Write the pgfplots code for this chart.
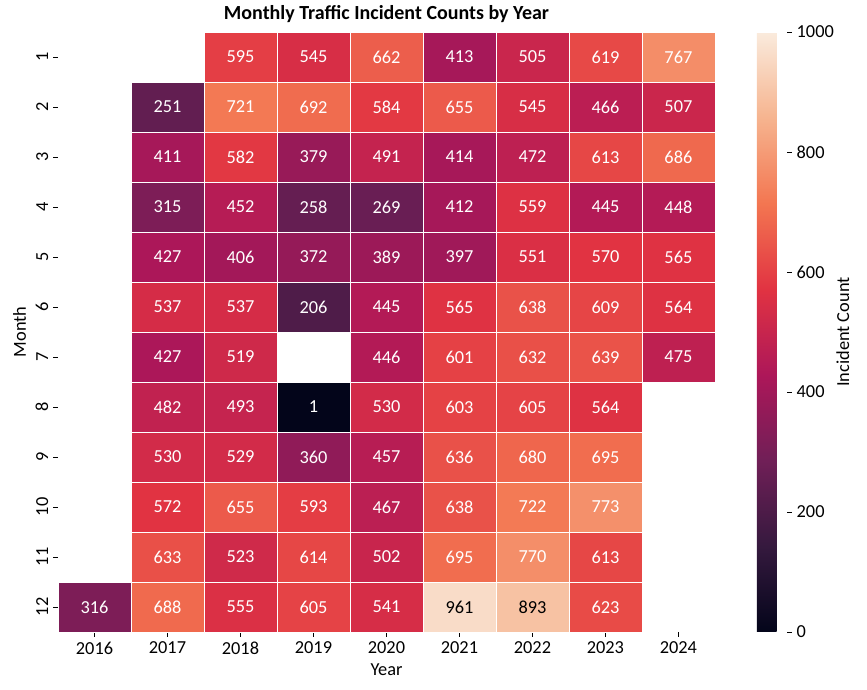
\documentclass[border=0pt]{standalone}
\usepackage{pgfplots}
\pgfplotsset{compat=1.18}
\usepackage{pgfplotstable}
\usepackage{fontspec}
\setmainfont{Carlito}
\newcommand\fnt{\fontsize{13.2}{15.8}\selectfont}
\pgfplotsset{
  /pgf/number format/assume math mode=true,
  /pgf/number format/1000 sep={},
  colormap={rocket}{rgb255=(3,5,26) rgb255=(53,25,62) rgb255=(112,31,87) rgb255=(173,23,89) rgb255=(225,51,66) rgb255=(243,118,81) rgb255=(246,180,143) rgb255=(250,235,221)}
}
\pgfdeclareplotmark{cell}{%
  \pgfpathrectangle{\pgfpoint{-26.28pt}{-18pt}}{\pgfpoint{52.56pt}{36pt}}%
  \pgfusepathqfillstroke}
% x = column index (0=2016 ... 8=2024), m = month, v = count
\pgfplotstableread{
x m v
2 1 595
3 1 545
4 1 662
5 1 413
6 1 505
7 1 619
8 1 767
1 2 251
2 2 721
3 2 692
4 2 584
5 2 655
6 2 545
7 2 466
8 2 507
1 3 411
2 3 582
3 3 379
4 3 491
5 3 414
6 3 472
7 3 613
8 3 686
1 4 315
2 4 452
3 4 258
4 4 269
5 4 412
6 4 559
7 4 445
8 4 448
1 5 427
2 5 406
3 5 372
4 5 389
5 5 397
6 5 551
7 5 570
8 5 565
1 6 537
2 6 537
3 6 206
4 6 445
5 6 565
6 6 638
7 6 609
8 6 564
1 7 427
2 7 519
4 7 446
5 7 601
6 7 632
7 7 639
8 7 475
1 8 482
2 8 493
3 8 1
4 8 530
5 8 603
6 8 605
7 8 564
1 9 530
2 9 529
3 9 360
4 9 457
5 9 636
6 9 680
7 9 695
1 10 572
2 10 655
3 10 593
4 10 467
5 10 638
6 10 722
7 10 773
1 11 633
2 11 523
3 11 614
4 11 502
5 11 695
6 11 770
7 11 613
0 12 316
1 12 688
2 12 555
3 12 605
4 12 541
7 12 623
}\cellsW
\pgfplotstableread{
x m v
5 12 961
6 12 893
}\cellsB
\begin{document}
\begin{tikzpicture}
\begin{axis}[name=ax,
  width=473pt, height=432pt, scale only axis,
  xmin=-0.5, xmax=8.5, ymin=0.5, ymax=12.5,
  xtick={0,...,8}, xticklabels={2016,2017,2018,2019,2020,2021,2022,2023,2024},
  ytick={1,...,12}, yticklabels={12,11,10,9,8,7,6,5,4,3,2,1},
  yticklabel style={rotate=90, anchor=south},
  tick align=outside, xtick pos=left, ytick pos=left,
  major tick length=3.5pt, tick style={black, line width=0.6pt},
  axis line style={draw=none},
  xlabel={Year}, ylabel={Month},
  xlabel style={yshift=0pt},
  title={Monthly Traffic Incident Counts by Year},
  label style={font=\fnt}, tick label style={font=\fnt},
  title style={font=\fontsize{14.4}{17}\selectfont\bfseries, yshift=-3pt},
  colormap name=rocket, point meta min=0, point meta max=1000,
  colorbar,
  colorbar style={
    at={(parent axis.north east)}, anchor=north west, xshift=21.7pt,
    width=21.6pt,
    ytick={0,200,...,1000},
    yticklabel pos=right, ytick pos=right,
    tick align=outside, major tick length=3.5pt,
    tick style={black, line width=0.6pt},
    axis line style={draw=none},
    ylabel={Incident Count},
    ylabel shift=-5pt,
    tick label style={font=\fnt},
    yticklabel style={font=\fnt},
    ylabel style={font=\fnt},
  },
]
\addplot[scatter, only marks, mark=cell,
  scatter/use mapped color={draw=white, fill=mapped color, line width=0.6pt},
  point meta=explicit]
  table[x=x, y expr=13-\thisrow{m}, meta=v]{\cellsW};
\addplot[scatter, only marks, mark=cell,
  scatter/use mapped color={draw=white, fill=mapped color, line width=0.6pt},
  point meta=explicit]
  table[x=x, y expr=13-\thisrow{m}, meta=v]{\cellsB};
\addplot[draw=none, mark=none, point meta=explicit,
  nodes near coords,
  every node near coord/.append style={anchor=center, text=white, font=\fnt}]
  table[x=x, y expr=13-\thisrow{m}, meta=v]{\cellsW};
\addplot[draw=none, mark=none, point meta=explicit,
  nodes near coords,
  every node near coord/.append style={anchor=center, text=black, font=\fnt}]
  table[x=x, y expr=13-\thisrow{m}, meta=v]{\cellsB};
\end{axis}
\path (ax.south west) ++(-41.76pt,-41.76pt) rectangle ++(624.24pt,496.8pt);
\end{tikzpicture}
\end{document}
